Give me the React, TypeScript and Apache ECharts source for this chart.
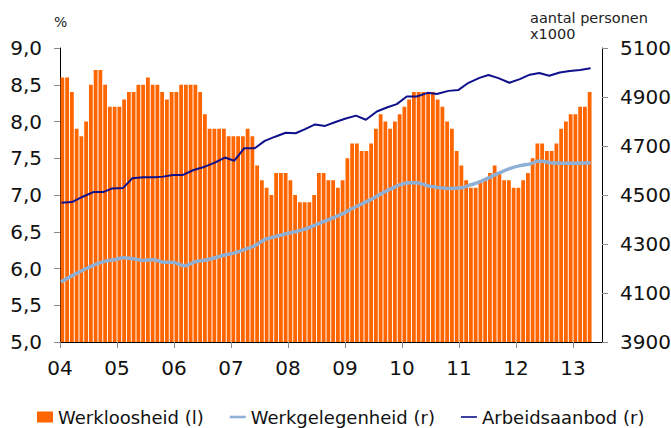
import React, { useEffect, useRef } from 'react';
import * as echarts from 'echarts';

const jaarLabels = ['04', '05', '06', '07', '08', '09', '10', '11', '12', '13'];

// Werkloosheid (%), monthly Jan 2004 - Apr 2013
const werkloosheid = [
  8.6, 8.6, 8.4, 7.9, 7.8, 8.0, 8.5, 8.7, 8.7, 8.5, 8.2, 8.2,
  8.2, 8.3, 8.4, 8.4, 8.5, 8.5, 8.6, 8.5, 8.5, 8.4, 8.3, 8.4,
  8.4, 8.5, 8.5, 8.5, 8.5, 8.4, 8.1, 7.9, 7.9, 7.9, 7.9, 7.8,
  7.8, 7.8, 7.8, 7.9, 7.8, 7.4, 7.2, 7.1, 7.0, 7.3, 7.3, 7.3,
  7.2, 7.0, 6.9, 6.9, 6.9, 7.0, 7.3, 7.3, 7.2, 7.2, 7.1, 7.2,
  7.5, 7.7, 7.7, 7.6, 7.6, 7.7, 7.9, 8.1, 8.0, 7.9, 8.0, 8.1,
  8.2, 8.3, 8.4, 8.4, 8.4, 8.4, 8.4, 8.3, 8.2, 8.0, 7.9, 7.6,
  7.4, 7.2, 7.1, 7.1, 7.2, 7.2, 7.3, 7.4, 7.3, 7.2, 7.2, 7.1,
  7.1, 7.2, 7.3, 7.5, 7.7, 7.7, 7.6, 7.6, 7.7, 7.9, 8.0, 8.1,
  8.1, 8.2, 8.2, 8.4,
];

// Werkgelegenheid (x1000), time in months since Jan 2004
const werkgelegenheidMaand = [
  0.2, 2.4, 5.2, 7.3, 9.4, 11.5, 13.3, 15.4, 17.5, 19.6, 21.7, 23.8, 26.3, 28.4,
  30.5, 32.6, 34.7, 36.8, 38.9, 41, 43.2, 45.3, 47.4, 49.5, 51.6, 53.7, 55.8,
  59.7, 61.1, 65.3, 69.3, 73.5, 75.1, 77.6, 81.6, 84.5, 86.4, 88.6, 92, 94.8,
  96.9, 99, 100.8, 103.2, 107.4, 111.7,
];
const werkgelegenheid = [
  4145, 4169, 4197, 4215, 4229, 4236, 4244, 4240, 4233, 4236, 4226, 4225, 4211, 4227,
  4234, 4244, 4255, 4264, 4278, 4293, 4319, 4330, 4341, 4350, 4361, 4377, 4394,
  4425, 4441, 4480, 4522, 4550, 4550, 4537, 4527, 4530, 4541, 4556, 4586, 4609,
  4620, 4627, 4639, 4632, 4630, 4632,
];

// Arbeidsaanbod (x1000), time in months since Jan 2004
const arbeidsaanbodMaand = [
  0.3, 2.5, 4.8, 7.0, 9.1, 11.0, 13.3, 15.2, 17.5, 20, 21.7, 23.8, 25.9, 28,
  30.1, 32.6, 34.7, 36.7, 38.8, 41, 43.1, 45.3, 47.5, 49.6, 51.6, 53.7, 55.8, 58,
  60, 62.3, 64.4, 66.7, 68.8, 70.9, 73, 75.1, 77.4, 79.3, 81.8, 83.9, 86, 88.3,
  90.2, 92.3, 94.6, 96.8, 98.9, 100.9, 103, 105.2, 107.3, 109.5, 111.7,
];
const arbeidsaanbod = [
  4468, 4471, 4493, 4512, 4512, 4527, 4529, 4568, 4572, 4572, 4575, 4582, 4582, 4601,
  4613, 4632, 4653, 4640, 4691, 4691, 4721, 4738, 4754, 4752, 4769, 4788, 4782, 4798,
  4811, 4824, 4807, 4841, 4857, 4871, 4902, 4902, 4917, 4912, 4925, 4929, 4958, 4978,
  4990, 4977, 4958, 4973, 4991, 4998, 4987, 5000, 5006, 5010, 5017,
];

const seriesNames = ['Werkloosheid (l)', 'Werkgelegenheid (r)', 'Arbeidsaanbod (r)'];

const FONT = 'DejaVu Sans';
const ORANGE = '#ff6600';
const LIGHTBLUE = '#8fb0d6';
const NAVY = '#10108c';

export default function App() {
  const ref = useRef<HTMLDivElement>(null);

  useEffect(() => {
    if (!ref.current) return;
    const chart = echarts.init(ref.current, undefined, { renderer: 'svg' });
    const axisLine = { show: true, onZero: false, lineStyle: { color: '#000', width: 1 } };
    const axisTick = { show: true, length: 6, lineStyle: { color: '#8a8a8a', width: 1 } };
    const legendIcons = ['rect', 'path://M0,0 H20 V3.2 H0 Z', 'path://M0,0 H20 V2 H0 Z'];
    chart.setOption({
      animation: false,
      textStyle: { fontFamily: FONT },
      grid: { left: 60, right: 69, top: 48, bottom: 86, containLabel: false, outerBoundsMode: 'none' },
      legend: {
        data: seriesNames.map((n, i) => ({ name: n, icon: legendIcons[i] })),
        left: 37,
        top: 408,
        padding: 0,
        itemWidth: 16,
        itemHeight: 11,
        itemGap: 26,
        textStyle: { fontSize: 18, color: '#111', fontFamily: FONT },
      },
      xAxis: {
        type: 'value',
        min: 0,
        max: 114.1,
        interval: 12,
        axisLine,
        axisTick,
        splitLine: { show: false },
        axisLabel: {
          fontSize: 20,
          color: '#111',
          margin: 16,
          fontFamily: FONT,
          showMaxLabel: false,
          formatter: (v: number) => {
            const k = Math.round(v / 12);
            return Math.abs(v - k * 12) < 1e-6 && jaarLabels[k] ? jaarLabels[k] : '';
          },
        },
      },
      yAxis: [
        {
          type: 'value',
          position: 'left',
          min: 5,
          max: 9,
          interval: 0.5,
          axisLine,
          axisTick,
          splitLine: { show: false },
          axisLabel: {
            fontSize: 20,
            color: '#111',
            margin: 18,
            fontFamily: FONT,
            formatter: (v: number) => v.toFixed(1).replace('.', ','),
          },
        },
        {
          type: 'value',
          position: 'right',
          min: 3900,
          max: 5100,
          interval: 200,
          axisLine,
          axisTick,
          splitLine: { show: false },
          axisLabel: {
            fontSize: 20,
            color: '#111',
            margin: 18,
            fontFamily: FONT,
            formatter: (v: number) => String(Math.round(v)),
          },
        },
      ],
      series: [
        {
          name: seriesNames[0],
          type: 'bar',
          xAxisIndex: 0,
          yAxisIndex: 0,
          barWidth: 3.8,
          itemStyle: { color: ORANGE },
          data: werkloosheid.map((v, i) => [i + 0.5, v]),
        },
        {
          name: seriesNames[1],
          type: 'line',
          xAxisIndex: 0,
          yAxisIndex: 1,
          symbol: 'none',
          smooth: 0.35,
          lineStyle: { width: 3.5, color: LIGHTBLUE },
          itemStyle: { color: LIGHTBLUE },
          data: werkgelegenheidMaand.map((m, i) => [m, werkgelegenheid[i]]),
        },
        {
          name: seriesNames[2],
          type: 'line',
          xAxisIndex: 0,
          yAxisIndex: 1,
          symbol: 'none',
          lineStyle: { width: 2, color: NAVY },
          itemStyle: { color: NAVY },
          data: arbeidsaanbodMaand.map((m, i) => [m, arbeidsaanbod[i]]),
        },
      ],
      graphic: [
        {
          type: 'text',
          left: 54,
          top: 15,
          style: { text: '%', fontSize: 14, fill: '#222', fontFamily: FONT },
        },
        {
          type: 'text',
          left: 530,
          top: 10,
          style: {
            text: 'aantal personen\nx1000',
            fontSize: 14.5,
            lineHeight: 16,
            fill: '#222',
            fontFamily: FONT,
          },
        },
      ],
    });
    return () => chart.dispose();
  }, []);

  return (
    <div
      ref={ref}
      style={{ position: 'fixed', left: 0, top: 0, width: 671, height: 428, background: '#fff' }}
    />
  );
}
